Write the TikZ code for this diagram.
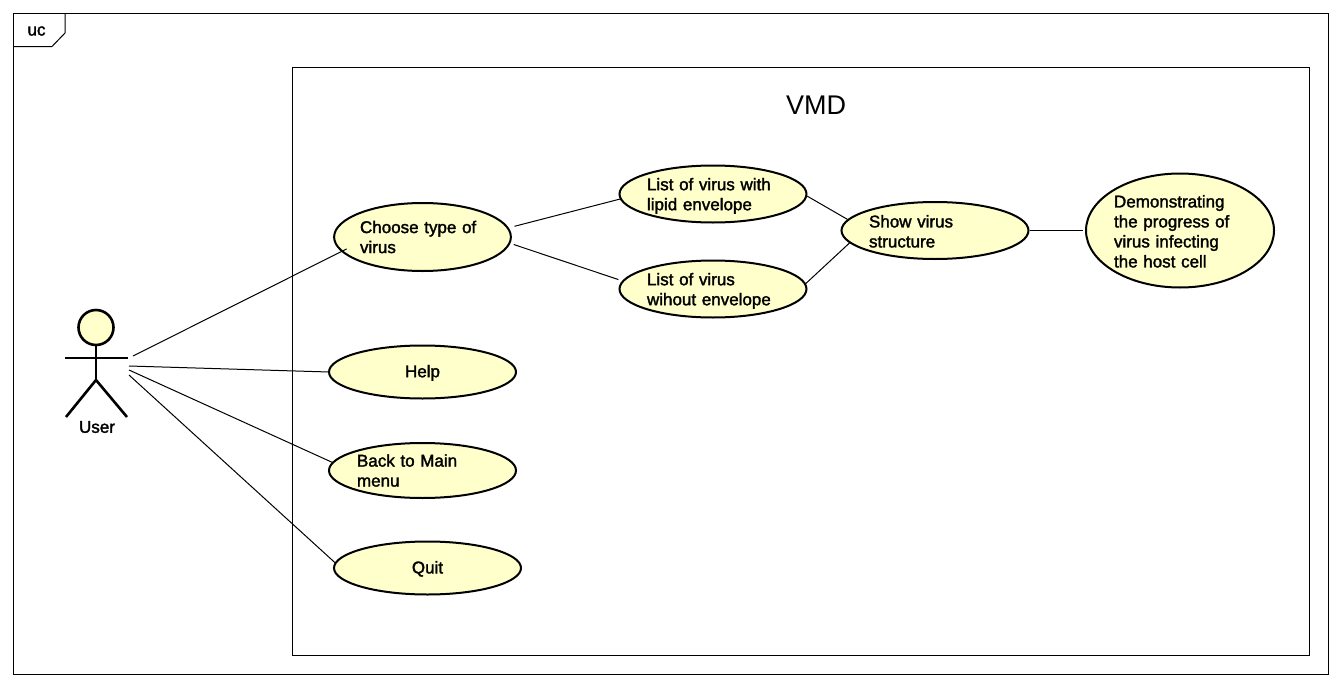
\documentclass[tikz,border=0pt]{standalone}
\usepackage{fontspec}
\setmainfont{Liberation Sans}
\newfontfamily\umlfont[FakeBold=1.8]{Liberation Sans}
\usetikzlibrary{positioning, shapes.geometric}
\definecolor{ucfill}{HTML}{FFFFCC}
\tikzset{
    usecase/.style={ellipse, draw=black, fill=ucfill, line width=2pt, inner sep=0pt, outer sep=0pt, font=\umlfont\fontsize{17}{20}\selectfont, text width=#1, align=left},
    usecase/.default=132pt,
    actorline/.style={line width=2.6pt},
    umlline/.style={line width=1pt, black}
}
\begin{document}
\begin{tikzpicture}[x=1pt, y=-1pt]
        \useasboundingbox (0,0) rectangle (1342,688);
        \fill[white] (0,0) rectangle (1342,688);
        %
        \draw[umlline] (13.5,13.5) rectangle (1328,674);
        \draw[umlline] (13.5,46.5)--(52,46.5)--(65,33)--(65,13.5);
        \node[font=\umlfont\fontsize{17}{20}\selectfont] (FrameTag) at (36.5,31) {uc};
        %
        \draw[umlline] (292.5,67.5) rectangle (1309.5,655);
        \node[font=\fontsize{27}{30}\selectfont] (SystemName) at (816,105.5) {VMD};
        %
        \node[usecase=125pt, minimum width=176pt, minimum height=68pt] (Choose) at (422.5,237) {Choose type of\\virus};
        \node[usecase, minimum width=187pt, minimum height=57pt, text height=16pt] (ListLipid) at (713,194) {List of virus with\\lipid envelope};
        \node[usecase, minimum width=187pt, minimum height=57pt, text height=16pt] (ListNoLipid) at (713,289) {List of virus\\wihout envelope};
        \node[usecase, minimum width=187pt, minimum height=57pt, text height=14pt] (Show) at (935,230.5) {Show virus\\structure};
        \node[usecase, minimum width=188pt, minimum height=114pt, text height=14pt] (Demo) at (1180,230.5) {Demonstrating\\the progress of\\virus infecting\\the host cell};
        \node[usecase=100pt, align=center, minimum width=187pt, minimum height=53pt, text height=14pt] (Help) at (422.5,372) {Help};
        \node[usecase=131pt, minimum width=187pt, minimum height=55pt] (Back) at (422.5,470.5) {Back to Main\\menu};
        \node[usecase=100pt, align=center, minimum width=187pt, minimum height=53pt, text height=14pt] (Quit) at (427.5,568) {Quit};
        %
        \node[circle, draw=black, fill=ucfill, line width=2.6pt, minimum size=35pt, inner sep=0pt, outer sep=0pt] (UserHead) at (96,327.5) {};
        \coordinate (UserHip) at (96,380);
        \draw[actorline] (UserHead.south)--(UserHip);
        \draw[actorline] (65,358)--(128,358);
        \draw[actorline] (UserHip)--(66,417);
        \draw[actorline] (UserHip)--(127,417);
        \node[font=\umlfont\fontsize{17}{20}\selectfont] (User) at (97,427) {User};
        %
        \coordinate (UserA) at (133,356);
        \coordinate (UserB) at (129,366);
        \coordinate (UserC) at (129,370);
        \coordinate (UserD) at (129,375);
        \draw[umlline, shorten >=-5pt] (UserA)--(Choose.190);
        \draw[umlline] (UserB)--(Help.west);
        \draw[umlline] (UserC)--(Back.175);
        \draw[umlline] (UserD)--(Quit.177);
        %
        \draw[umlline, shorten <=7pt] (Choose.6)--(ListLipid.183);
        \draw[umlline, shorten <=4.5pt, shorten >=5pt] (Choose.-4)--(ListNoLipid.175);
        \draw[umlline, shorten <=1pt, shorten >=1pt] (ListLipid.-1)--(Show.173);
        \draw[umlline] (ListNoLipid.3)--(Show.188);
        \draw[umlline, shorten <=1pt, shorten >=3pt] (Show.east)--(Demo.west);
    \end{tikzpicture}
\end{document}
